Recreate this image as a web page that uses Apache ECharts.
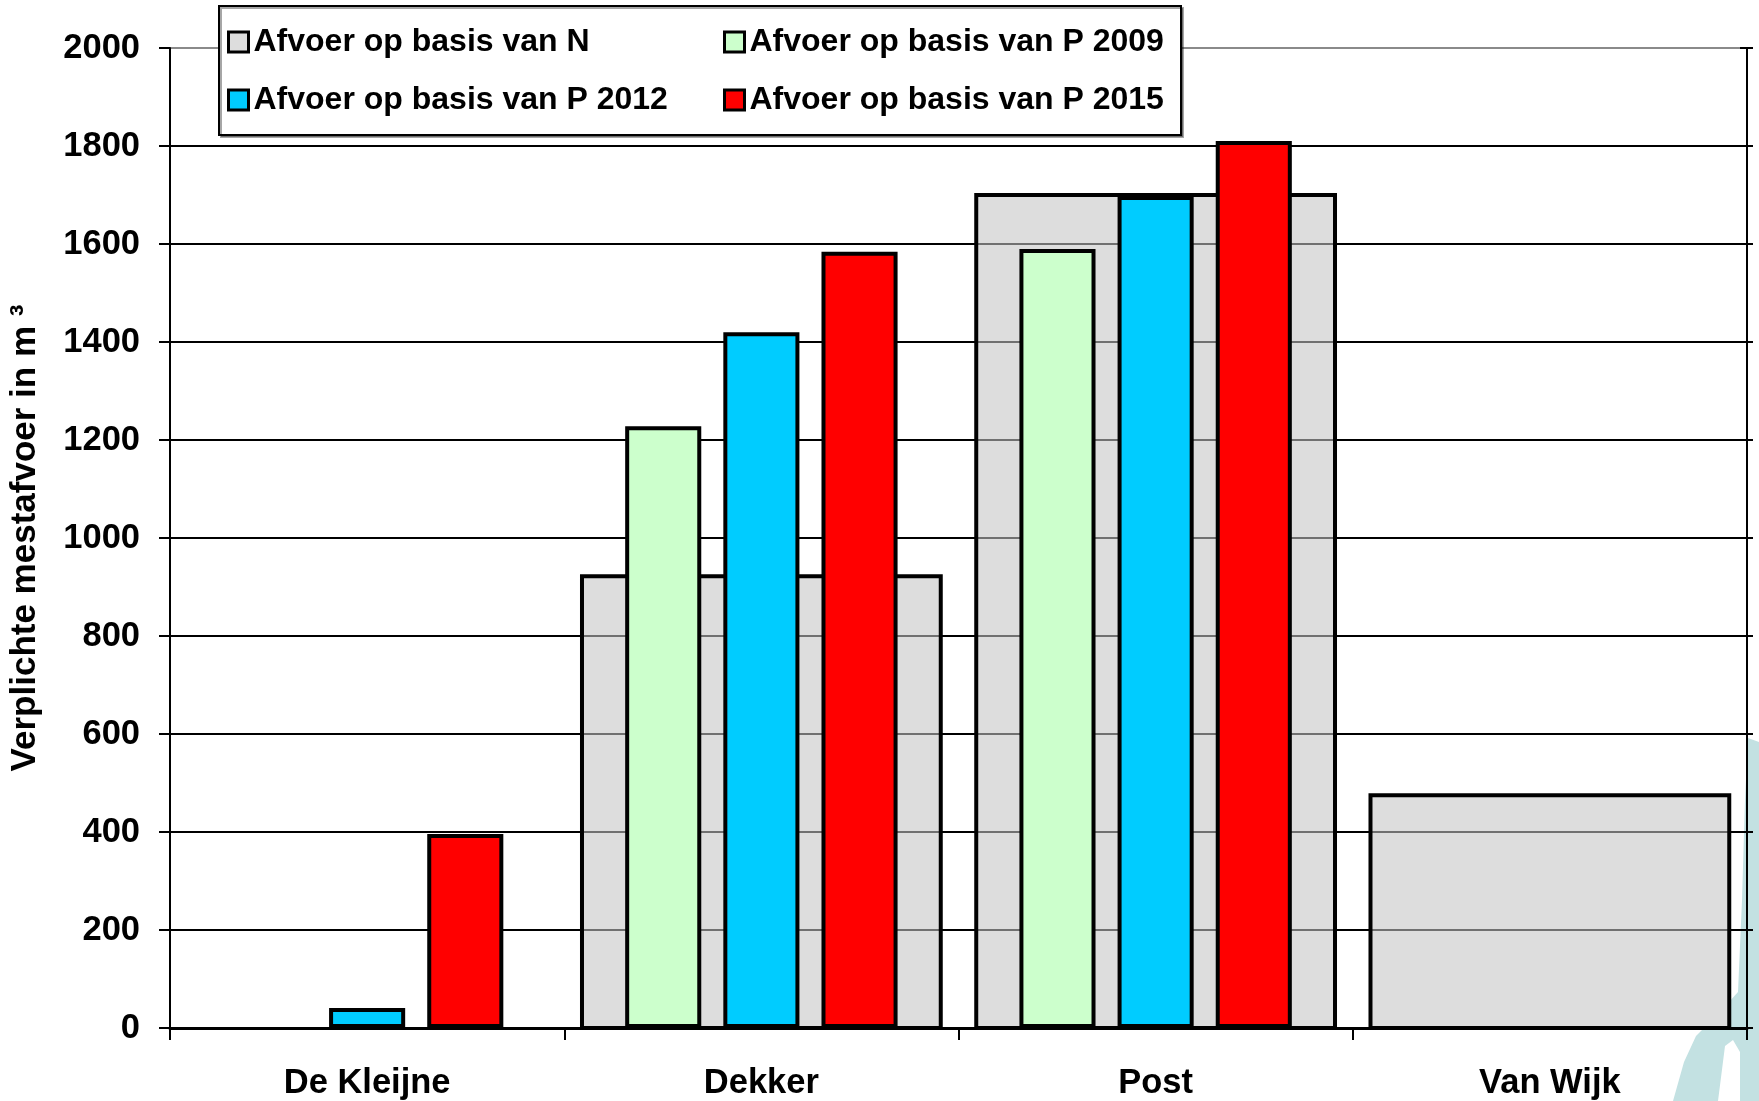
<!DOCTYPE html>
<html>
<head>
<meta charset="utf-8">
<script src="https://cdn.jsdelivr.net/npm/echarts@6/dist/echarts.min.js"></script>
<style>
  html, body { margin: 0; padding: 0; background: #fff; }
  #chart { width: 1759px; height: 1101px; }
</style>
</head>
<body>
<div id="chart"></div>
<script>
const categories = ["De Kleijne", "Dekker", "Post", "Van Wijk"];
const yTicks = [0, 200, 400, 600, 800, 1000, 1200, 1400, 1600, 1800, 2000];

const afvoerN = [null, 922, 1700, 475];
const afvoerP2009 = [null, 1228, 1590, null];
const afvoerP2012 = [41, 1420, 1698, null];
const afvoerP2015 = [396, 1584, 1810, null];

const font = "'Liberation Sans', Arial, sans-serif";
const border = { borderColor: "#000", borderWidth: 4 };

// grid lines: black, top one grey
const splitColors = yTicks.map((t, i) => (i === yTicks.length - 1 ? "#8a8a8a" : "#000"));

// wide grey N bars; the grid lines show through them in mid-grey
function renderWideBar(params, api) {
  const v = api.value(1);
  if (v == null || isNaN(v)) return null;
  const cat = api.value(0);
  const base = api.coord([cat, 0]);
  const top = api.coord([cat, v]);
  const w = api.size([1, 0])[0] * 0.91;
  const x = top[0] - w / 2;
  const rectShape = { x: x, y: top[1], width: w, height: base[1] - top[1] };
  const children = [{ type: "rect", shape: rectShape, style: { fill: "#dddddd" } }];
  yTicks.forEach((t) => {
    if (t > 0 && t < v) {
      const y = api.coord([cat, t])[1];
      children.push({
        type: "line",
        shape: { x1: x, y1: y, x2: x + w, y2: y },
        style: { stroke: "#707070", lineWidth: 2 }
      });
    }
  });
  children.push({ type: "rect", shape: rectShape, style: { fill: "none", stroke: "#000", lineWidth: 4 } });
  return { type: "group", children: children };
}

const chart = echarts.init(document.getElementById("chart"));

chart.setOption({
  animation: false,
  backgroundColor: "#fff",
  textStyle: { fontFamily: font, color: "#000" },
  grid: { left: 169, right: 12, top: 48, bottom: 72 },
  graphic: [
    {
      // pale logo remnant at the right edge
      type: "polygon",
      z: -1,
      shape: {
        points: [[1748, 738], [1759, 742], [1759, 1101], [1740, 1101], [1740, 1052], [1733, 1040],
          [1725, 1046], [1718, 1101], [1673, 1101], [1684, 1062], [1696, 1036], [1720, 1012],
          [1738, 992], [1742, 900], [1745, 800]]
      },
      style: { fill: "#c3e1e2" }
    },
    {
      type: "rect",
      z: 10,
      shape: { x: 219, y: 6, width: 962, height: 129 },
      style: {
        fill: "#fff",
        stroke: "#000",
        lineWidth: 2,
        shadowColor: "rgba(0,0,0,0.35)",
        shadowOffsetX: 2,
        shadowOffsetY: 2
      }
    }
  ],
  legend: [
    {
      data: ["Afvoer op basis van N", "Afvoer op basis van P 2012"],
      orient: "vertical",
      left: 227,
      top: 24,
      padding: 0,
      itemGap: 22,
      itemWidth: 20,
      itemHeight: 20,
      icon: "rect",
      selectedMode: false,
      z: 20,
      itemStyle: { borderColor: "#000", borderWidth: 3 },
      textStyle: { fontFamily: font, fontSize: 32, fontWeight: "bold", color: "#000", lineHeight: 36 }
    },
    {
      data: ["Afvoer op basis van P 2009", "Afvoer op basis van P 2015"],
      orient: "vertical",
      left: 723,
      top: 24,
      padding: 0,
      itemGap: 22,
      itemWidth: 20,
      itemHeight: 20,
      icon: "rect",
      selectedMode: false,
      z: 20,
      itemStyle: { borderColor: "#000", borderWidth: 3 },
      textStyle: { fontFamily: font, fontSize: 32, fontWeight: "bold", color: "#000", lineHeight: 36 }
    }
  ],
  xAxis: [
    {
      type: "category",
      data: categories,
      axisLine: { lineStyle: { color: "#000", width: 3 } },
      axisTick: { show: true, length: 12, lineStyle: { color: "#000", width: 2 } },
      axisLabel: { color: "#000", fontFamily: font, fontSize: 34.5, fontWeight: "bold", margin: 38 },
      splitLine: { show: false }
    },
    {
      type: "category",
      data: categories,
      show: false
    }
  ],
  yAxis: [
    {
      type: "value",
      position: "left",
      min: 0,
      max: 2000,
      interval: 200,
      name: "Verplichte mestafvoer in m ³",
      nameLocation: "middle",
      nameGap: 127,
      nameTextStyle: { fontFamily: font, fontSize: 35, fontWeight: "bold", color: "#000" },
      axisLine: { show: true, lineStyle: { color: "#000", width: 2 } },
      axisTick: { show: true, length: 11, lineStyle: { color: "#000", width: 2 } },
      axisLabel: {
        color: "#000", fontFamily: font, fontSize: 34.5, fontWeight: "bold", margin: 30,
        formatter: (v) => String(v)
      },
      splitLine: { show: true, lineStyle: { color: splitColors, width: 2 } }
    },
    {
      type: "value",
      position: "right",
      min: 0,
      max: 2000,
      interval: 200,
      axisLine: { show: true, lineStyle: { color: "#000", width: 2 } },
      axisTick: { show: true, length: 6, lineStyle: { color: "#000", width: 2 } },
      axisLabel: { show: false },
      splitLine: { show: false }
    },
    {
      type: "value",
      position: "right",
      min: 0,
      max: 2000,
      interval: 200,
      axisLine: { show: false },
      axisTick: { show: true, inside: true, length: 7, lineStyle: { color: "#000", width: 2 } },
      axisLabel: { show: false },
      splitLine: { show: false }
    }
  ],
  series: [
    {
      name: "Afvoer op basis van N",
      type: "custom",
      xAxisIndex: 0,
      yAxisIndex: 0,
      z: 2,
      renderItem: renderWideBar,
      encode: { x: 0, y: 1 },
      data: afvoerN.map((v, i) => [i, v]),
      itemStyle: { color: "#dddddd", borderColor: "#000", borderWidth: 3 }
    },
    {
      name: "Afvoer op basis van P 2009",
      type: "bar",
      xAxisIndex: 1,
      yAxisIndex: 0,
      barWidth: "19.3%",
      barGap: "29%",
      z: 3,
      data: afvoerP2009,
      itemStyle: Object.assign({ color: "#ccffcc" }, border)
    },
    {
      name: "Afvoer op basis van P 2012",
      type: "bar",
      xAxisIndex: 1,
      yAxisIndex: 0,
      barWidth: "19.3%",
      barGap: "29%",
      z: 3,
      data: afvoerP2012,
      itemStyle: Object.assign({ color: "#00ccff" }, border)
    },
    {
      name: "Afvoer op basis van P 2015",
      type: "bar",
      xAxisIndex: 1,
      yAxisIndex: 0,
      barWidth: "19.3%",
      barGap: "29%",
      z: 3,
      data: afvoerP2015,
      itemStyle: Object.assign({ color: "#ff0000" }, border)
    }
  ]
});
</script>
</body>
</html>
